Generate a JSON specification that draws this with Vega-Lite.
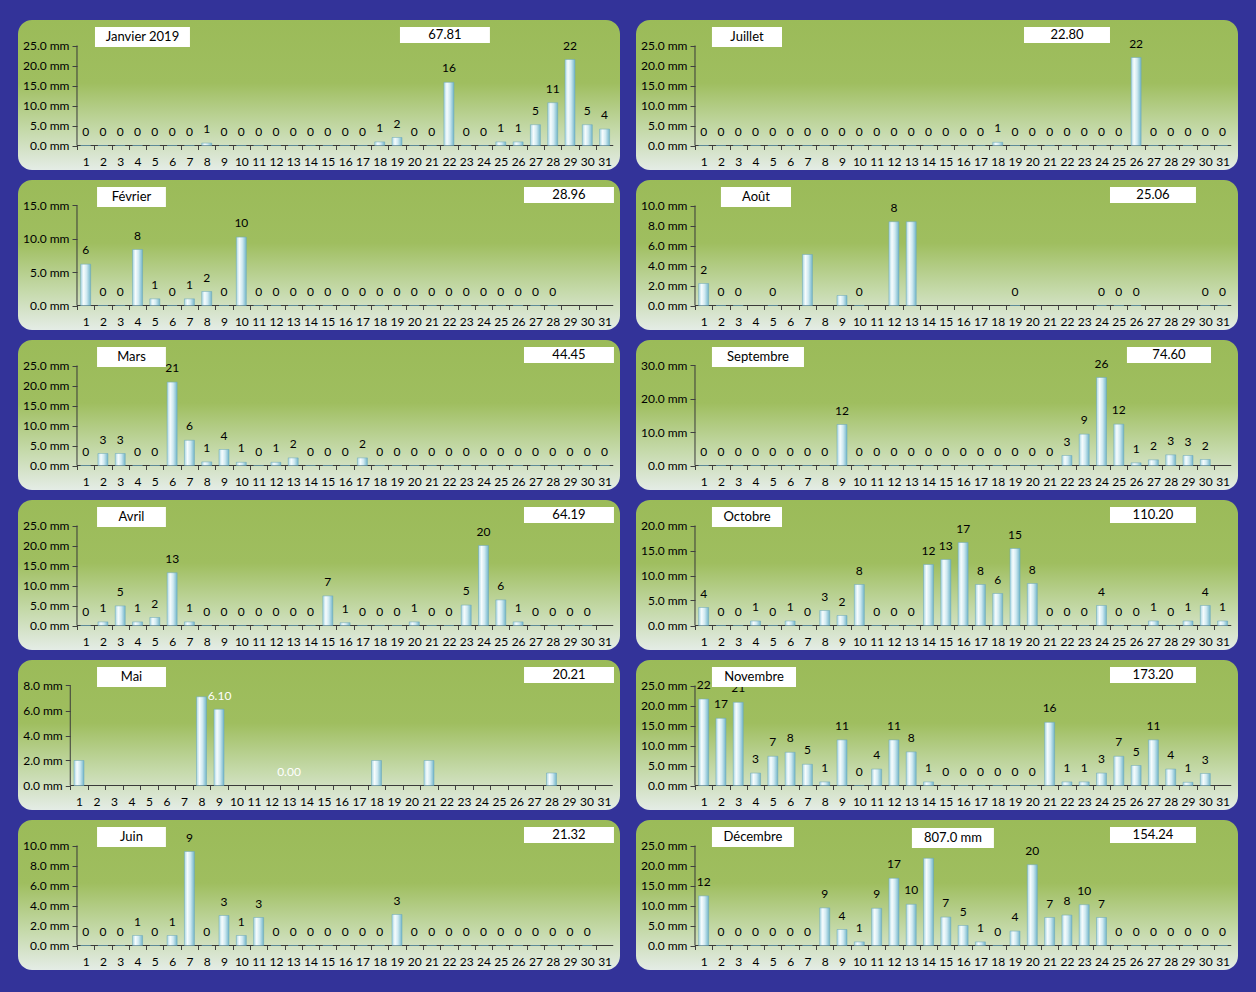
{
"$schema":"https://vega.github.io/schema/vega-lite/v6.json",
"background":"#333399",
"padding":{"left":18,"top":20,"right":18,"bottom":22},
"config":{"view":{"stroke":null},"axis":{"domain":false,"grid":false,"labelFont":"Lato","labelFontSize":12,"labelColor":"#000000","tickColor":"#404040"},"text":{"font":"Lato","fontSize":12,"color":"#000000"}},
"datasets":{
"Janvier":[{"day":1,"value":0,"label":"0"},{"day":2,"value":0,"label":"0"},{"day":3,"value":0,"label":"0"},{"day":4,"value":0,"label":"0"},{"day":5,"value":0,"label":"0"},{"day":6,"value":0,"label":"0"},{"day":7,"value":0,"label":"0"},{"day":8,"value":0.6,"label":"1"},{"day":9,"value":0,"label":"0"},{"day":10,"value":0,"label":"0"},{"day":11,"value":0,"label":"0"},{"day":12,"value":0,"label":"0"},{"day":13,"value":0,"label":"0"},{"day":14,"value":0,"label":"0"},{"day":15,"value":0,"label":"0"},{"day":16,"value":0,"label":"0"},{"day":17,"value":0,"label":"0"},{"day":18,"value":0.9,"label":"1"},{"day":19,"value":2.0,"label":"2"},{"day":20,"value":0,"label":"0"},{"day":21,"value":0,"label":"0"},{"day":22,"value":15.8,"label":"16"},{"day":23,"value":0,"label":"0"},{"day":24,"value":0,"label":"0"},{"day":25,"value":0.9,"label":"1"},{"day":26,"value":0.9,"label":"1"},{"day":27,"value":5.2,"label":"5"},{"day":28,"value":10.7,"label":"11"},{"day":29,"value":21.5,"label":"22"},{"day":30,"value":5.2,"label":"5"},{"day":31,"value":4.1,"label":"4"}],
"Février":[{"day":1,"value":6.2,"label":"6"},{"day":2,"value":0,"label":"0"},{"day":3,"value":0,"label":"0"},{"day":4,"value":8.4,"label":"8"},{"day":5,"value":1.0,"label":"1"},{"day":6,"value":0,"label":"0"},{"day":7,"value":1.0,"label":"1"},{"day":8,"value":2.1,"label":"2"},{"day":9,"value":0,"label":"0"},{"day":10,"value":10.26,"label":"10"},{"day":11,"value":0,"label":"0"},{"day":12,"value":0,"label":"0"},{"day":13,"value":0,"label":"0"},{"day":14,"value":0,"label":"0"},{"day":15,"value":0,"label":"0"},{"day":16,"value":0,"label":"0"},{"day":17,"value":0,"label":"0"},{"day":18,"value":0,"label":"0"},{"day":19,"value":0,"label":"0"},{"day":20,"value":0,"label":"0"},{"day":21,"value":0,"label":"0"},{"day":22,"value":0,"label":"0"},{"day":23,"value":0,"label":"0"},{"day":24,"value":0,"label":"0"},{"day":25,"value":0,"label":"0"},{"day":26,"value":0,"label":"0"},{"day":27,"value":0,"label":"0"},{"day":28,"value":0,"label":"0"}],
"Mars":[{"day":1,"value":0,"label":"0"},{"day":2,"value":3.0,"label":"3"},{"day":3,"value":3.0,"label":"3"},{"day":4,"value":0,"label":"0"},{"day":5,"value":0,"label":"0"},{"day":6,"value":20.85,"label":"21"},{"day":7,"value":6.3,"label":"6"},{"day":8,"value":0.9,"label":"1"},{"day":9,"value":4.0,"label":"4"},{"day":10,"value":0.8,"label":"1"},{"day":11,"value":0,"label":"0"},{"day":12,"value":0.8,"label":"1"},{"day":13,"value":1.9,"label":"2"},{"day":14,"value":0,"label":"0"},{"day":15,"value":0,"label":"0"},{"day":16,"value":0,"label":"0"},{"day":17,"value":1.9,"label":"2"},{"day":18,"value":0,"label":"0"},{"day":19,"value":0,"label":"0"},{"day":20,"value":0,"label":"0"},{"day":21,"value":0,"label":"0"},{"day":22,"value":0,"label":"0"},{"day":23,"value":0,"label":"0"},{"day":24,"value":0,"label":"0"},{"day":25,"value":0,"label":"0"},{"day":26,"value":0,"label":"0"},{"day":27,"value":0,"label":"0"},{"day":28,"value":0,"label":"0"},{"day":29,"value":0,"label":"0"},{"day":30,"value":0,"label":"0"},{"day":31,"value":0,"label":"0"}],
"Avril":[{"day":1,"value":0,"label":"0"},{"day":2,"value":0.9,"label":"1"},{"day":3,"value":4.9,"label":"5"},{"day":4,"value":0.9,"label":"1"},{"day":5,"value":2.0,"label":"2"},{"day":6,"value":13.2,"label":"13"},{"day":7,"value":0.9,"label":"1"},{"day":8,"value":0,"label":"0"},{"day":9,"value":0,"label":"0"},{"day":10,"value":0,"label":"0"},{"day":11,"value":0,"label":"0"},{"day":12,"value":0,"label":"0"},{"day":13,"value":0,"label":"0"},{"day":14,"value":0,"label":"0"},{"day":15,"value":7.4,"label":"7"},{"day":16,"value":0.7,"label":"1"},{"day":17,"value":0,"label":"0"},{"day":18,"value":0,"label":"0"},{"day":19,"value":0,"label":"0"},{"day":20,"value":0.9,"label":"1"},{"day":21,"value":0,"label":"0"},{"day":22,"value":0,"label":"0"},{"day":23,"value":5.1,"label":"5"},{"day":24,"value":20.0,"label":"20"},{"day":25,"value":6.4,"label":"6"},{"day":26,"value":0.9,"label":"1"},{"day":27,"value":0,"label":"0"},{"day":28,"value":0,"label":"0"},{"day":29,"value":0,"label":"0"},{"day":30,"value":0,"label":"0"}],
"Mai":[{"day":1,"value":2.0},{"day":8,"value":7.1},{"day":9,"value":6.1},{"day":18,"value":2.0},{"day":21,"value":2.0},{"day":28,"value":1.0}],
"Juin":[{"day":1,"value":0,"label":"0"},{"day":2,"value":0,"label":"0"},{"day":3,"value":0,"label":"0"},{"day":4,"value":1.0,"label":"1"},{"day":5,"value":0,"label":"0"},{"day":6,"value":1.0,"label":"1"},{"day":7,"value":9.4,"label":"9"},{"day":8,"value":0,"label":"0"},{"day":9,"value":3.0,"label":"3"},{"day":10,"value":1.0,"label":"1"},{"day":11,"value":2.8,"label":"3"},{"day":12,"value":0,"label":"0"},{"day":13,"value":0,"label":"0"},{"day":14,"value":0,"label":"0"},{"day":15,"value":0,"label":"0"},{"day":16,"value":0,"label":"0"},{"day":17,"value":0,"label":"0"},{"day":18,"value":0,"label":"0"},{"day":19,"value":3.1,"label":"3"},{"day":20,"value":0,"label":"0"},{"day":21,"value":0,"label":"0"},{"day":22,"value":0,"label":"0"},{"day":23,"value":0,"label":"0"},{"day":24,"value":0,"label":"0"},{"day":25,"value":0,"label":"0"},{"day":26,"value":0,"label":"0"},{"day":27,"value":0,"label":"0"},{"day":28,"value":0,"label":"0"},{"day":29,"value":0,"label":"0"},{"day":30,"value":0,"label":"0"}],
"Juillet":[{"day":1,"value":0,"label":"0"},{"day":2,"value":0,"label":"0"},{"day":3,"value":0,"label":"0"},{"day":4,"value":0,"label":"0"},{"day":5,"value":0,"label":"0"},{"day":6,"value":0,"label":"0"},{"day":7,"value":0,"label":"0"},{"day":8,"value":0,"label":"0"},{"day":9,"value":0,"label":"0"},{"day":10,"value":0,"label":"0"},{"day":11,"value":0,"label":"0"},{"day":12,"value":0,"label":"0"},{"day":13,"value":0,"label":"0"},{"day":14,"value":0,"label":"0"},{"day":15,"value":0,"label":"0"},{"day":16,"value":0,"label":"0"},{"day":17,"value":0,"label":"0"},{"day":18,"value":0.8,"label":"1"},{"day":19,"value":0,"label":"0"},{"day":20,"value":0,"label":"0"},{"day":21,"value":0,"label":"0"},{"day":22,"value":0,"label":"0"},{"day":23,"value":0,"label":"0"},{"day":24,"value":0,"label":"0"},{"day":25,"value":0,"label":"0"},{"day":26,"value":22.0,"label":"22"},{"day":27,"value":0,"label":"0"},{"day":28,"value":0,"label":"0"},{"day":29,"value":0,"label":"0"},{"day":30,"value":0,"label":"0"},{"day":31,"value":0,"label":"0"}],
"Août":[{"day":1,"value":2.2,"label":"2"},{"day":2,"value":0,"label":"0"},{"day":3,"value":0,"label":"0"},{"day":5,"value":0,"label":"0"},{"day":7,"value":5.1},{"day":9,"value":1.0},{"day":10,"value":0,"label":"0"},{"day":12,"value":8.38,"label":"8"},{"day":13,"value":8.38},{"day":19,"value":0,"label":"0"},{"day":24,"value":0,"label":"0"},{"day":25,"value":0,"label":"0"},{"day":26,"value":0,"label":"0"},{"day":30,"value":0,"label":"0"},{"day":31,"value":0,"label":"0"}],
"Septembre":[{"day":1,"value":0,"label":"0"},{"day":2,"value":0,"label":"0"},{"day":3,"value":0,"label":"0"},{"day":4,"value":0,"label":"0"},{"day":5,"value":0,"label":"0"},{"day":6,"value":0,"label":"0"},{"day":7,"value":0,"label":"0"},{"day":8,"value":0,"label":"0"},{"day":9,"value":12.3,"label":"12"},{"day":10,"value":0,"label":"0"},{"day":11,"value":0,"label":"0"},{"day":12,"value":0,"label":"0"},{"day":13,"value":0,"label":"0"},{"day":14,"value":0,"label":"0"},{"day":15,"value":0,"label":"0"},{"day":16,"value":0,"label":"0"},{"day":17,"value":0,"label":"0"},{"day":18,"value":0,"label":"0"},{"day":19,"value":0,"label":"0"},{"day":20,"value":0,"label":"0"},{"day":21,"value":0,"label":"0"},{"day":22,"value":3.0,"label":"3"},{"day":23,"value":9.4,"label":"9"},{"day":24,"value":26.4,"label":"26"},{"day":25,"value":12.4,"label":"12"},{"day":26,"value":0.8,"label":"1"},{"day":27,"value":1.7,"label":"2"},{"day":28,"value":3.2,"label":"3"},{"day":29,"value":3.0,"label":"3"},{"day":30,"value":1.8,"label":"2"}],
"Octobre":[{"day":1,"value":3.6,"label":"4"},{"day":2,"value":0,"label":"0"},{"day":3,"value":0,"label":"0"},{"day":4,"value":0.9,"label":"1"},{"day":5,"value":0,"label":"0"},{"day":6,"value":0.9,"label":"1"},{"day":7,"value":0,"label":"0"},{"day":8,"value":3.0,"label":"3"},{"day":9,"value":2.0,"label":"2"},{"day":10,"value":8.2,"label":"8"},{"day":11,"value":0,"label":"0"},{"day":12,"value":0,"label":"0"},{"day":13,"value":0,"label":"0"},{"day":14,"value":12.2,"label":"12"},{"day":15,"value":13.2,"label":"13"},{"day":16,"value":16.6,"label":"17"},{"day":17,"value":8.2,"label":"8"},{"day":18,"value":6.4,"label":"6"},{"day":19,"value":15.4,"label":"15"},{"day":20,"value":8.4,"label":"8"},{"day":21,"value":0,"label":"0"},{"day":22,"value":0,"label":"0"},{"day":23,"value":0,"label":"0"},{"day":24,"value":4.0,"label":"4"},{"day":25,"value":0,"label":"0"},{"day":26,"value":0,"label":"0"},{"day":27,"value":0.9,"label":"1"},{"day":28,"value":0,"label":"0"},{"day":29,"value":0.9,"label":"1"},{"day":30,"value":4.0,"label":"4"},{"day":31,"value":0.9,"label":"1"}],
"Novembre":[{"day":1,"value":21.6,"label":"22"},{"day":2,"value":16.8,"label":"17"},{"day":3,"value":20.8,"label":"21"},{"day":4,"value":3.1,"label":"3"},{"day":5,"value":7.3,"label":"7"},{"day":6,"value":8.3,"label":"8"},{"day":7,"value":5.3,"label":"5"},{"day":8,"value":0.9,"label":"1"},{"day":9,"value":11.4,"label":"11"},{"day":10,"value":0,"label":"0"},{"day":11,"value":4.1,"label":"4"},{"day":12,"value":11.4,"label":"11"},{"day":13,"value":8.4,"label":"8"},{"day":14,"value":0.9,"label":"1"},{"day":15,"value":0,"label":"0"},{"day":16,"value":0,"label":"0"},{"day":17,"value":0,"label":"0"},{"day":18,"value":0,"label":"0"},{"day":19,"value":0,"label":"0"},{"day":20,"value":0,"label":"0"},{"day":21,"value":15.8,"label":"16"},{"day":22,"value":0.9,"label":"1"},{"day":23,"value":0.9,"label":"1"},{"day":24,"value":3.1,"label":"3"},{"day":25,"value":7.3,"label":"7"},{"day":26,"value":5.0,"label":"5"},{"day":27,"value":11.4,"label":"11"},{"day":28,"value":4.1,"label":"4"},{"day":29,"value":0.8,"label":"1"},{"day":30,"value":3.0,"label":"3"}],
"Décembre":[{"day":1,"value":12.4,"label":"12"},{"day":2,"value":0,"label":"0"},{"day":3,"value":0,"label":"0"},{"day":4,"value":0,"label":"0"},{"day":5,"value":0,"label":"0"},{"day":6,"value":0,"label":"0"},{"day":7,"value":0,"label":"0"},{"day":8,"value":9.4,"label":"9"},{"day":9,"value":4.0,"label":"4"},{"day":10,"value":0.9,"label":"1"},{"day":11,"value":9.3,"label":"9"},{"day":12,"value":16.8,"label":"17"},{"day":13,"value":10.3,"label":"10"},{"day":14,"value":21.8,"label":"22"},{"day":15,"value":7.1,"label":"7"},{"day":16,"value":5.0,"label":"5"},{"day":17,"value":0.9,"label":"1"},{"day":18,"value":0,"label":"0"},{"day":19,"value":3.6,"label":"4"},{"day":20,"value":20.2,"label":"20"},{"day":21,"value":7.0,"label":"7"},{"day":22,"value":7.6,"label":"8"},{"day":23,"value":10.2,"label":"10"},{"day":24,"value":7.0,"label":"7"},{"day":25,"value":0,"label":"0"},{"day":26,"value":0,"label":"0"},{"day":27,"value":0,"label":"0"},{"day":28,"value":0,"label":"0"},{"day":29,"value":0,"label":"0"},{"day":30,"value":0,"label":"0"},{"day":31,"value":0,"label":"0"}]
},
"spacing":16,
"hconcat":[
{"spacing":10,"vconcat":[
{"width":602,"height":150,"layer":[
{"data":{"values":[{}]},"mark":{"type":"rect","cornerRadius":14,"fill":{"gradient":"linear","x1":0,"y1":0,"x2":0,"y2":1,"stops":[{"offset":0,"color":"#9bbb59"},{"offset":0.42,"color":"#9fbe5f"},{"offset":0.72,"color":"#c3d8a6"},{"offset":1,"color":"#e4ece6"}]}},"encoding":{"x":{"datum":-2.91,"type":"quantitative"},"x2":{"datum":31.89},"y":{"datum":-6.125,"type":"quantitative"},"y2":{"datum":31.375}}},
{"data":{"values":[{}]},"mark":{"type":"rule","color":"#3a3a3a"},"encoding":{"x":{"datum":0.5,"type":"quantitative"},"y":{"datum":0,"type":"quantitative"},"y2":{"datum":25}}},
{"data":{"values":[{}]},"mark":{"type":"rule","color":"#3a3a3a"},"encoding":{"x":{"datum":0.5,"type":"quantitative"},"x2":{"datum":31.5},"y":{"datum":0,"type":"quantitative"}}},
{"data":{"name":"Janvier"},"mark":{"type":"bar","orient":"vertical","width":10,"stroke":"#6aa6b8","strokeWidth":0.5,"fill":{"gradient":"linear","x1":0,"y1":0,"x2":1,"y2":0,"stops":[{"offset":0,"color":"#a9d7e4"},{"offset":0.3,"color":"#f7fcfd"},{"offset":0.6,"color":"#cfe9f1"},{"offset":1,"color":"#72b5c9"}]}},"encoding":{"x":{"field":"day","type":"quantitative","scale":{"domain":[-2.91,31.89],"nice":false,"zero":false,"padding":0},"axis":{"zindex":1,"tickCount":100,"labelOverlap":false,"labelFlush":false,"values":[1,2,3,4,5,6,7,8,9,10,11,12,13,14,15,16,17,18,19,20,21,22,23,24,25,26,27,28,29,30,31,32],"format":"d","labelExpr":"datum.value > 31 ? '' : datum.label","offset":-24.5,"tickOffset":-8.65,"labelOffset":8.65,"tickSize":4,"labelPadding":7,"title":null}},"y":{"field":"value","type":"quantitative","scale":{"domain":[-6.125,31.375],"nice":false,"zero":false},"axis":{"zindex":1,"tickCount":100,"labelOverlap":false,"values":[0,5,10,15,20,25],"format":".1f","labelExpr":"datum.label + ' mm'","offset":-59,"tickSize":5,"labelPadding":3,"title":null}}}},
{"data":{"name":"Janvier"},"transform":[{"filter":"isValid(datum.label)"}],"mark":{"type":"text","baseline":"middle","dy":-14},"encoding":{"x":{"field":"day","type":"quantitative"},"y":{"field":"value","type":"quantitative"},"text":{"field":"label","type":"nominal"}}},
{"data":{"values":[{}]},"mark":{"type":"rect","fill":"#ffffff"},"encoding":{"x":{"datum":1.54,"type":"quantitative"},"x2":{"datum":7.03},"y":{"datum":24.625,"type":"quantitative"},"y2":{"datum":29.625}}},
{"data":{"values":[{}]},"mark":{"type":"text","text":"Janvier 2019","fontSize":13,"baseline":"middle"},"encoding":{"x":{"datum":4.285,"type":"quantitative"},"y":{"datum":27.125,"type":"quantitative"}}},
{"data":{"values":[{}]},"mark":{"type":"rect","fill":"#ffffff"},"encoding":{"x":{"datum":19.17,"type":"quantitative"},"x2":{"datum":24.37},"y":{"datum":25.625,"type":"quantitative"},"y2":{"datum":29.625}}},
{"data":{"values":[{}]},"mark":{"type":"text","text":"67.81","fontSize":13,"baseline":"middle"},"encoding":{"x":{"datum":21.77,"type":"quantitative"},"y":{"datum":27.625,"type":"quantitative"}}}
]},
{"width":602,"height":150,"layer":[
{"data":{"values":[{}]},"mark":{"type":"rect","cornerRadius":14,"fill":{"gradient":"linear","x1":0,"y1":0,"x2":0,"y2":1,"stops":[{"offset":0,"color":"#9bbb59"},{"offset":0.42,"color":"#9fbe5f"},{"offset":0.72,"color":"#c3d8a6"},{"offset":1,"color":"#e4ece6"}]}},"encoding":{"x":{"datum":-2.91,"type":"quantitative"},"x2":{"datum":31.89},"y":{"datum":-3.675,"type":"quantitative"},"y2":{"datum":18.825}}},
{"data":{"values":[{}]},"mark":{"type":"rule","color":"#3a3a3a"},"encoding":{"x":{"datum":0.5,"type":"quantitative"},"y":{"datum":0,"type":"quantitative"},"y2":{"datum":15}}},
{"data":{"values":[{}]},"mark":{"type":"rule","color":"#3a3a3a"},"encoding":{"x":{"datum":0.5,"type":"quantitative"},"x2":{"datum":31.5},"y":{"datum":0,"type":"quantitative"}}},
{"data":{"name":"Février"},"mark":{"type":"bar","orient":"vertical","width":10,"stroke":"#6aa6b8","strokeWidth":0.5,"fill":{"gradient":"linear","x1":0,"y1":0,"x2":1,"y2":0,"stops":[{"offset":0,"color":"#a9d7e4"},{"offset":0.3,"color":"#f7fcfd"},{"offset":0.6,"color":"#cfe9f1"},{"offset":1,"color":"#72b5c9"}]}},"encoding":{"x":{"field":"day","type":"quantitative","scale":{"domain":[-2.91,31.89],"nice":false,"zero":false,"padding":0},"axis":{"zindex":1,"tickCount":100,"labelOverlap":false,"labelFlush":false,"values":[1,2,3,4,5,6,7,8,9,10,11,12,13,14,15,16,17,18,19,20,21,22,23,24,25,26,27,28,29,30,31,32],"format":"d","labelExpr":"datum.value > 31 ? '' : datum.label","offset":-24.5,"tickOffset":-8.65,"labelOffset":8.65,"tickSize":4,"labelPadding":7,"title":null}},"y":{"field":"value","type":"quantitative","scale":{"domain":[-3.675,18.825],"nice":false,"zero":false},"axis":{"zindex":1,"tickCount":100,"labelOverlap":false,"values":[0,5,10,15],"format":".1f","labelExpr":"datum.label + ' mm'","offset":-59,"tickSize":5,"labelPadding":3,"title":null}}}},
{"data":{"name":"Février"},"transform":[{"filter":"isValid(datum.label)"}],"mark":{"type":"text","baseline":"middle","dy":-14},"encoding":{"x":{"field":"day","type":"quantitative"},"y":{"field":"value","type":"quantitative"},"text":{"field":"label","type":"nominal"}}},
{"data":{"values":[{}]},"mark":{"type":"rect","fill":"#ffffff"},"encoding":{"x":{"datum":1.66,"type":"quantitative"},"x2":{"datum":5.64},"y":{"datum":14.775,"type":"quantitative"},"y2":{"datum":17.775}}},
{"data":{"values":[{}]},"mark":{"type":"text","text":"Février","fontSize":13,"baseline":"middle"},"encoding":{"x":{"datum":3.65,"type":"quantitative"},"y":{"datum":16.275,"type":"quantitative"}}},
{"data":{"values":[{}]},"mark":{"type":"rect","fill":"#ffffff"},"encoding":{"x":{"datum":26.34,"type":"quantitative"},"x2":{"datum":31.54},"y":{"datum":15.375,"type":"quantitative"},"y2":{"datum":17.775}}},
{"data":{"values":[{}]},"mark":{"type":"text","text":"28.96","fontSize":13,"baseline":"middle"},"encoding":{"x":{"datum":28.94,"type":"quantitative"},"y":{"datum":16.575,"type":"quantitative"}}}
]},
{"width":602,"height":150,"layer":[
{"data":{"values":[{}]},"mark":{"type":"rect","cornerRadius":14,"fill":{"gradient":"linear","x1":0,"y1":0,"x2":0,"y2":1,"stops":[{"offset":0,"color":"#9bbb59"},{"offset":0.42,"color":"#9fbe5f"},{"offset":0.72,"color":"#c3d8a6"},{"offset":1,"color":"#e4ece6"}]}},"encoding":{"x":{"datum":-2.91,"type":"quantitative"},"x2":{"datum":31.89},"y":{"datum":-6.125,"type":"quantitative"},"y2":{"datum":31.375}}},
{"data":{"values":[{}]},"mark":{"type":"rule","color":"#3a3a3a"},"encoding":{"x":{"datum":0.5,"type":"quantitative"},"y":{"datum":0,"type":"quantitative"},"y2":{"datum":25}}},
{"data":{"values":[{}]},"mark":{"type":"rule","color":"#3a3a3a"},"encoding":{"x":{"datum":0.5,"type":"quantitative"},"x2":{"datum":31.5},"y":{"datum":0,"type":"quantitative"}}},
{"data":{"name":"Mars"},"mark":{"type":"bar","orient":"vertical","width":10,"stroke":"#6aa6b8","strokeWidth":0.5,"fill":{"gradient":"linear","x1":0,"y1":0,"x2":1,"y2":0,"stops":[{"offset":0,"color":"#a9d7e4"},{"offset":0.3,"color":"#f7fcfd"},{"offset":0.6,"color":"#cfe9f1"},{"offset":1,"color":"#72b5c9"}]}},"encoding":{"x":{"field":"day","type":"quantitative","scale":{"domain":[-2.91,31.89],"nice":false,"zero":false,"padding":0},"axis":{"zindex":1,"tickCount":100,"labelOverlap":false,"labelFlush":false,"values":[1,2,3,4,5,6,7,8,9,10,11,12,13,14,15,16,17,18,19,20,21,22,23,24,25,26,27,28,29,30,31,32],"format":"d","labelExpr":"datum.value > 31 ? '' : datum.label","offset":-24.5,"tickOffset":-8.65,"labelOffset":8.65,"tickSize":4,"labelPadding":7,"title":null}},"y":{"field":"value","type":"quantitative","scale":{"domain":[-6.125,31.375],"nice":false,"zero":false},"axis":{"zindex":1,"tickCount":100,"labelOverlap":false,"values":[0,5,10,15,20,25],"format":".1f","labelExpr":"datum.label + ' mm'","offset":-59,"tickSize":5,"labelPadding":3,"title":null}}}},
{"data":{"name":"Mars"},"transform":[{"filter":"isValid(datum.label)"}],"mark":{"type":"text","baseline":"middle","dy":-14},"encoding":{"x":{"field":"day","type":"quantitative"},"y":{"field":"value","type":"quantitative"},"text":{"field":"label","type":"nominal"}}},
{"data":{"values":[{}]},"mark":{"type":"rect","fill":"#ffffff"},"encoding":{"x":{"datum":1.66,"type":"quantitative"},"x2":{"datum":5.64},"y":{"datum":24.625,"type":"quantitative"},"y2":{"datum":29.625}}},
{"data":{"values":[{}]},"mark":{"type":"text","text":"Mars","fontSize":13,"baseline":"middle"},"encoding":{"x":{"datum":3.65,"type":"quantitative"},"y":{"datum":27.125,"type":"quantitative"}}},
{"data":{"values":[{}]},"mark":{"type":"rect","fill":"#ffffff"},"encoding":{"x":{"datum":26.34,"type":"quantitative"},"x2":{"datum":31.54},"y":{"datum":25.625,"type":"quantitative"},"y2":{"datum":29.625}}},
{"data":{"values":[{}]},"mark":{"type":"text","text":"44.45","fontSize":13,"baseline":"middle"},"encoding":{"x":{"datum":28.94,"type":"quantitative"},"y":{"datum":27.625,"type":"quantitative"}}}
]},
{"width":602,"height":150,"layer":[
{"data":{"values":[{}]},"mark":{"type":"rect","cornerRadius":14,"fill":{"gradient":"linear","x1":0,"y1":0,"x2":0,"y2":1,"stops":[{"offset":0,"color":"#9bbb59"},{"offset":0.42,"color":"#9fbe5f"},{"offset":0.72,"color":"#c3d8a6"},{"offset":1,"color":"#e4ece6"}]}},"encoding":{"x":{"datum":-2.91,"type":"quantitative"},"x2":{"datum":31.89},"y":{"datum":-6.125,"type":"quantitative"},"y2":{"datum":31.375}}},
{"data":{"values":[{}]},"mark":{"type":"rule","color":"#3a3a3a"},"encoding":{"x":{"datum":0.5,"type":"quantitative"},"y":{"datum":0,"type":"quantitative"},"y2":{"datum":25}}},
{"data":{"values":[{}]},"mark":{"type":"rule","color":"#3a3a3a"},"encoding":{"x":{"datum":0.5,"type":"quantitative"},"x2":{"datum":31.5},"y":{"datum":0,"type":"quantitative"}}},
{"data":{"name":"Avril"},"mark":{"type":"bar","orient":"vertical","width":10,"stroke":"#6aa6b8","strokeWidth":0.5,"fill":{"gradient":"linear","x1":0,"y1":0,"x2":1,"y2":0,"stops":[{"offset":0,"color":"#a9d7e4"},{"offset":0.3,"color":"#f7fcfd"},{"offset":0.6,"color":"#cfe9f1"},{"offset":1,"color":"#72b5c9"}]}},"encoding":{"x":{"field":"day","type":"quantitative","scale":{"domain":[-2.91,31.89],"nice":false,"zero":false,"padding":0},"axis":{"zindex":1,"tickCount":100,"labelOverlap":false,"labelFlush":false,"values":[1,2,3,4,5,6,7,8,9,10,11,12,13,14,15,16,17,18,19,20,21,22,23,24,25,26,27,28,29,30,31,32],"format":"d","labelExpr":"datum.value > 31 ? '' : datum.label","offset":-24.5,"tickOffset":-8.65,"labelOffset":8.65,"tickSize":4,"labelPadding":7,"title":null}},"y":{"field":"value","type":"quantitative","scale":{"domain":[-6.125,31.375],"nice":false,"zero":false},"axis":{"zindex":1,"tickCount":100,"labelOverlap":false,"values":[0,5,10,15,20,25],"format":".1f","labelExpr":"datum.label + ' mm'","offset":-59,"tickSize":5,"labelPadding":3,"title":null}}}},
{"data":{"name":"Avril"},"transform":[{"filter":"isValid(datum.label)"}],"mark":{"type":"text","baseline":"middle","dy":-14},"encoding":{"x":{"field":"day","type":"quantitative"},"y":{"field":"value","type":"quantitative"},"text":{"field":"label","type":"nominal"}}},
{"data":{"values":[{}]},"mark":{"type":"rect","fill":"#ffffff"},"encoding":{"x":{"datum":1.66,"type":"quantitative"},"x2":{"datum":5.64},"y":{"datum":24.625,"type":"quantitative"},"y2":{"datum":29.625}}},
{"data":{"values":[{}]},"mark":{"type":"text","text":"Avril","fontSize":13,"baseline":"middle"},"encoding":{"x":{"datum":3.65,"type":"quantitative"},"y":{"datum":27.125,"type":"quantitative"}}},
{"data":{"values":[{}]},"mark":{"type":"rect","fill":"#ffffff"},"encoding":{"x":{"datum":26.34,"type":"quantitative"},"x2":{"datum":31.54},"y":{"datum":25.625,"type":"quantitative"},"y2":{"datum":29.625}}},
{"data":{"values":[{}]},"mark":{"type":"text","text":"64.19","fontSize":13,"baseline":"middle"},"encoding":{"x":{"datum":28.94,"type":"quantitative"},"y":{"datum":27.625,"type":"quantitative"}}}
]},
{"width":602,"height":150,"layer":[
{"data":{"values":[{}]},"mark":{"type":"rect","cornerRadius":14,"fill":{"gradient":"linear","x1":0,"y1":0,"x2":0,"y2":1,"stops":[{"offset":0,"color":"#9bbb59"},{"offset":0.42,"color":"#9fbe5f"},{"offset":0.72,"color":"#c3d8a6"},{"offset":1,"color":"#e4ece6"}]}},"encoding":{"x":{"datum":-2.486,"type":"quantitative"},"x2":{"datum":31.914},"y":{"datum":-1.96,"type":"quantitative"},"y2":{"datum":10.04}}},
{"data":{"values":[{}]},"mark":{"type":"rule","color":"#3a3a3a"},"encoding":{"x":{"datum":0.5,"type":"quantitative"},"y":{"datum":0,"type":"quantitative"},"y2":{"datum":8}}},
{"data":{"values":[{}]},"mark":{"type":"rule","color":"#3a3a3a"},"encoding":{"x":{"datum":0.5,"type":"quantitative"},"x2":{"datum":31.5},"y":{"datum":0,"type":"quantitative"}}},
{"data":{"name":"Mai"},"mark":{"type":"bar","orient":"vertical","width":10,"stroke":"#6aa6b8","strokeWidth":0.5,"fill":{"gradient":"linear","x1":0,"y1":0,"x2":1,"y2":0,"stops":[{"offset":0,"color":"#a9d7e4"},{"offset":0.3,"color":"#f7fcfd"},{"offset":0.6,"color":"#cfe9f1"},{"offset":1,"color":"#72b5c9"}]}},"encoding":{"x":{"field":"day","type":"quantitative","scale":{"domain":[-2.486,31.914],"nice":false,"zero":false,"padding":0},"axis":{"zindex":1,"tickCount":100,"labelOverlap":false,"labelFlush":false,"values":[1,2,3,4,5,6,7,8,9,10,11,12,13,14,15,16,17,18,19,20,21,22,23,24,25,26,27,28,29,30,31,32],"format":"d","labelExpr":"datum.value > 31 ? '' : datum.label","offset":-24.5,"tickOffset":-8.75,"labelOffset":8.75,"tickSize":4,"labelPadding":7,"title":null}},"y":{"field":"value","type":"quantitative","scale":{"domain":[-1.96,10.04],"nice":false,"zero":false},"axis":{"zindex":1,"tickCount":100,"labelOverlap":false,"values":[0,2,4,6,8],"format":".1f","labelExpr":"datum.label + ' mm'","offset":-52.25,"tickSize":5,"labelPadding":3,"title":null}}}},
{"data":{"values":[{}]},"mark":{"type":"text","text":"6.10","align":"left","baseline":"middle","color":"#ffffff"},"encoding":{"x":{"datum":8.35,"type":"quantitative"},"y":{"datum":7.16,"type":"quantitative"}}},
{"data":{"values":[{}]},"mark":{"type":"text","text":"0.00","baseline":"middle","color":"#ffffff"},"encoding":{"x":{"datum":13.0,"type":"quantitative"},"y":{"datum":1.08,"type":"quantitative"}}},
{"data":{"values":[{}]},"mark":{"type":"rect","fill":"#ffffff"},"encoding":{"x":{"datum":2.03,"type":"quantitative"},"x2":{"datum":5.97},"y":{"datum":7.88,"type":"quantitative"},"y2":{"datum":9.48}}},
{"data":{"values":[{}]},"mark":{"type":"text","text":"Mai","fontSize":13,"baseline":"middle"},"encoding":{"x":{"datum":4.0,"type":"quantitative"},"y":{"datum":8.68,"type":"quantitative"}}},
{"data":{"values":[{}]},"mark":{"type":"rect","fill":"#ffffff"},"encoding":{"x":{"datum":26.43,"type":"quantitative"},"x2":{"datum":31.57},"y":{"datum":8.2,"type":"quantitative"},"y2":{"datum":9.48}}},
{"data":{"values":[{}]},"mark":{"type":"text","text":"20.21","fontSize":13,"baseline":"middle"},"encoding":{"x":{"datum":29.0,"type":"quantitative"},"y":{"datum":8.84,"type":"quantitative"}}}
]},
{"width":602,"height":150,"layer":[
{"data":{"values":[{}]},"mark":{"type":"rect","cornerRadius":14,"fill":{"gradient":"linear","x1":0,"y1":0,"x2":0,"y2":1,"stops":[{"offset":0,"color":"#9bbb59"},{"offset":0.42,"color":"#9fbe5f"},{"offset":0.72,"color":"#c3d8a6"},{"offset":1,"color":"#e4ece6"}]}},"encoding":{"x":{"datum":-2.91,"type":"quantitative"},"x2":{"datum":31.89},"y":{"datum":-2.45,"type":"quantitative"},"y2":{"datum":12.55}}},
{"data":{"values":[{}]},"mark":{"type":"rule","color":"#3a3a3a"},"encoding":{"x":{"datum":0.5,"type":"quantitative"},"y":{"datum":0,"type":"quantitative"},"y2":{"datum":10}}},
{"data":{"values":[{}]},"mark":{"type":"rule","color":"#3a3a3a"},"encoding":{"x":{"datum":0.5,"type":"quantitative"},"x2":{"datum":31.5},"y":{"datum":0,"type":"quantitative"}}},
{"data":{"name":"Juin"},"mark":{"type":"bar","orient":"vertical","width":10,"stroke":"#6aa6b8","strokeWidth":0.5,"fill":{"gradient":"linear","x1":0,"y1":0,"x2":1,"y2":0,"stops":[{"offset":0,"color":"#a9d7e4"},{"offset":0.3,"color":"#f7fcfd"},{"offset":0.6,"color":"#cfe9f1"},{"offset":1,"color":"#72b5c9"}]}},"encoding":{"x":{"field":"day","type":"quantitative","scale":{"domain":[-2.91,31.89],"nice":false,"zero":false,"padding":0},"axis":{"zindex":1,"tickCount":100,"labelOverlap":false,"labelFlush":false,"values":[1,2,3,4,5,6,7,8,9,10,11,12,13,14,15,16,17,18,19,20,21,22,23,24,25,26,27,28,29,30,31,32],"format":"d","labelExpr":"datum.value > 31 ? '' : datum.label","offset":-24.5,"tickOffset":-8.65,"labelOffset":8.65,"tickSize":4,"labelPadding":7,"title":null}},"y":{"field":"value","type":"quantitative","scale":{"domain":[-2.45,12.55],"nice":false,"zero":false},"axis":{"zindex":1,"tickCount":100,"labelOverlap":false,"values":[0,2,4,6,8,10],"format":".1f","labelExpr":"datum.label + ' mm'","offset":-59,"tickSize":5,"labelPadding":3,"title":null}}}},
{"data":{"name":"Juin"},"transform":[{"filter":"isValid(datum.label)"}],"mark":{"type":"text","baseline":"middle","dy":-14},"encoding":{"x":{"field":"day","type":"quantitative"},"y":{"field":"value","type":"quantitative"},"text":{"field":"label","type":"nominal"}}},
{"data":{"values":[{}]},"mark":{"type":"rect","fill":"#ffffff"},"encoding":{"x":{"datum":1.66,"type":"quantitative"},"x2":{"datum":5.64},"y":{"datum":9.85,"type":"quantitative"},"y2":{"datum":11.85}}},
{"data":{"values":[{}]},"mark":{"type":"text","text":"Juin","fontSize":13,"baseline":"middle"},"encoding":{"x":{"datum":3.65,"type":"quantitative"},"y":{"datum":10.85,"type":"quantitative"}}},
{"data":{"values":[{}]},"mark":{"type":"rect","fill":"#ffffff"},"encoding":{"x":{"datum":26.34,"type":"quantitative"},"x2":{"datum":31.54},"y":{"datum":10.25,"type":"quantitative"},"y2":{"datum":11.85}}},
{"data":{"values":[{}]},"mark":{"type":"text","text":"21.32","fontSize":13,"baseline":"middle"},"encoding":{"x":{"datum":28.94,"type":"quantitative"},"y":{"datum":11.05,"type":"quantitative"}}}
]}
]},
{"spacing":10,"vconcat":[
{"width":602,"height":150,"layer":[
{"data":{"values":[{}]},"mark":{"type":"rect","cornerRadius":14,"fill":{"gradient":"linear","x1":0,"y1":0,"x2":0,"y2":1,"stops":[{"offset":0,"color":"#9bbb59"},{"offset":0.42,"color":"#9fbe5f"},{"offset":0.72,"color":"#c3d8a6"},{"offset":1,"color":"#e4ece6"}]}},"encoding":{"x":{"datum":-2.91,"type":"quantitative"},"x2":{"datum":31.89},"y":{"datum":-6.125,"type":"quantitative"},"y2":{"datum":31.375}}},
{"data":{"values":[{}]},"mark":{"type":"rule","color":"#3a3a3a"},"encoding":{"x":{"datum":0.5,"type":"quantitative"},"y":{"datum":0,"type":"quantitative"},"y2":{"datum":25}}},
{"data":{"values":[{}]},"mark":{"type":"rule","color":"#3a3a3a"},"encoding":{"x":{"datum":0.5,"type":"quantitative"},"x2":{"datum":31.5},"y":{"datum":0,"type":"quantitative"}}},
{"data":{"name":"Juillet"},"mark":{"type":"bar","orient":"vertical","width":10,"stroke":"#6aa6b8","strokeWidth":0.5,"fill":{"gradient":"linear","x1":0,"y1":0,"x2":1,"y2":0,"stops":[{"offset":0,"color":"#a9d7e4"},{"offset":0.3,"color":"#f7fcfd"},{"offset":0.6,"color":"#cfe9f1"},{"offset":1,"color":"#72b5c9"}]}},"encoding":{"x":{"field":"day","type":"quantitative","scale":{"domain":[-2.91,31.89],"nice":false,"zero":false,"padding":0},"axis":{"zindex":1,"tickCount":100,"labelOverlap":false,"labelFlush":false,"values":[1,2,3,4,5,6,7,8,9,10,11,12,13,14,15,16,17,18,19,20,21,22,23,24,25,26,27,28,29,30,31,32],"format":"d","labelExpr":"datum.value > 31 ? '' : datum.label","offset":-24.5,"tickOffset":-8.65,"labelOffset":8.65,"tickSize":4,"labelPadding":7,"title":null}},"y":{"field":"value","type":"quantitative","scale":{"domain":[-6.125,31.375],"nice":false,"zero":false},"axis":{"zindex":1,"tickCount":100,"labelOverlap":false,"values":[0,5,10,15,20,25],"format":".1f","labelExpr":"datum.label + ' mm'","offset":-59,"tickSize":5,"labelPadding":3,"title":null}}}},
{"data":{"name":"Juillet"},"transform":[{"filter":"isValid(datum.label)"}],"mark":{"type":"text","baseline":"middle","dy":-14},"encoding":{"x":{"field":"day","type":"quantitative"},"y":{"field":"value","type":"quantitative"},"text":{"field":"label","type":"nominal"}}},
{"data":{"values":[{}]},"mark":{"type":"rect","fill":"#ffffff"},"encoding":{"x":{"datum":1.48,"type":"quantitative"},"x2":{"datum":5.53},"y":{"datum":24.625,"type":"quantitative"},"y2":{"datum":29.625}}},
{"data":{"values":[{}]},"mark":{"type":"text","text":"Juillet","fontSize":13,"baseline":"middle"},"encoding":{"x":{"datum":3.505,"type":"quantitative"},"y":{"datum":27.125,"type":"quantitative"}}},
{"data":{"values":[{}]},"mark":{"type":"rect","fill":"#ffffff"},"encoding":{"x":{"datum":19.52,"type":"quantitative"},"x2":{"datum":24.49},"y":{"datum":25.625,"type":"quantitative"},"y2":{"datum":29.625}}},
{"data":{"values":[{}]},"mark":{"type":"text","text":"22.80","fontSize":13,"baseline":"middle"},"encoding":{"x":{"datum":22.005,"type":"quantitative"},"y":{"datum":27.625,"type":"quantitative"}}}
]},
{"width":602,"height":150,"layer":[
{"data":{"values":[{}]},"mark":{"type":"rect","cornerRadius":14,"fill":{"gradient":"linear","x1":0,"y1":0,"x2":0,"y2":1,"stops":[{"offset":0,"color":"#9bbb59"},{"offset":0.42,"color":"#9fbe5f"},{"offset":0.72,"color":"#c3d8a6"},{"offset":1,"color":"#e4ece6"}]}},"encoding":{"x":{"datum":-2.91,"type":"quantitative"},"x2":{"datum":31.89},"y":{"datum":-2.45,"type":"quantitative"},"y2":{"datum":12.55}}},
{"data":{"values":[{}]},"mark":{"type":"rule","color":"#3a3a3a"},"encoding":{"x":{"datum":0.5,"type":"quantitative"},"y":{"datum":0,"type":"quantitative"},"y2":{"datum":10}}},
{"data":{"values":[{}]},"mark":{"type":"rule","color":"#3a3a3a"},"encoding":{"x":{"datum":0.5,"type":"quantitative"},"x2":{"datum":31.5},"y":{"datum":0,"type":"quantitative"}}},
{"data":{"name":"Août"},"mark":{"type":"bar","orient":"vertical","width":10,"stroke":"#6aa6b8","strokeWidth":0.5,"fill":{"gradient":"linear","x1":0,"y1":0,"x2":1,"y2":0,"stops":[{"offset":0,"color":"#a9d7e4"},{"offset":0.3,"color":"#f7fcfd"},{"offset":0.6,"color":"#cfe9f1"},{"offset":1,"color":"#72b5c9"}]}},"encoding":{"x":{"field":"day","type":"quantitative","scale":{"domain":[-2.91,31.89],"nice":false,"zero":false,"padding":0},"axis":{"zindex":1,"tickCount":100,"labelOverlap":false,"labelFlush":false,"values":[1,2,3,4,5,6,7,8,9,10,11,12,13,14,15,16,17,18,19,20,21,22,23,24,25,26,27,28,29,30,31,32],"format":"d","labelExpr":"datum.value > 31 ? '' : datum.label","offset":-24.5,"tickOffset":-8.65,"labelOffset":8.65,"tickSize":4,"labelPadding":7,"title":null}},"y":{"field":"value","type":"quantitative","scale":{"domain":[-2.45,12.55],"nice":false,"zero":false},"axis":{"zindex":1,"tickCount":100,"labelOverlap":false,"values":[0,2,4,6,8,10],"format":".1f","labelExpr":"datum.label + ' mm'","offset":-59,"tickSize":5,"labelPadding":3,"title":null}}}},
{"data":{"name":"Août"},"transform":[{"filter":"isValid(datum.label)"}],"mark":{"type":"text","baseline":"middle","dy":-14},"encoding":{"x":{"field":"day","type":"quantitative"},"y":{"field":"value","type":"quantitative"},"text":{"field":"label","type":"nominal"}}},
{"data":{"values":[{}]},"mark":{"type":"rect","fill":"#ffffff"},"encoding":{"x":{"datum":2.0,"type":"quantitative"},"x2":{"datum":6.05},"y":{"datum":9.85,"type":"quantitative"},"y2":{"datum":11.85}}},
{"data":{"values":[{}]},"mark":{"type":"text","text":"Août","fontSize":13,"baseline":"middle"},"encoding":{"x":{"datum":4.025,"type":"quantitative"},"y":{"datum":10.85,"type":"quantitative"}}},
{"data":{"values":[{}]},"mark":{"type":"rect","fill":"#ffffff"},"encoding":{"x":{"datum":24.49,"type":"quantitative"},"x2":{"datum":29.46},"y":{"datum":10.25,"type":"quantitative"},"y2":{"datum":11.85}}},
{"data":{"values":[{}]},"mark":{"type":"text","text":"25.06","fontSize":13,"baseline":"middle"},"encoding":{"x":{"datum":26.975,"type":"quantitative"},"y":{"datum":11.05,"type":"quantitative"}}}
]},
{"width":602,"height":150,"layer":[
{"data":{"values":[{}]},"mark":{"type":"rect","cornerRadius":14,"fill":{"gradient":"linear","x1":0,"y1":0,"x2":0,"y2":1,"stops":[{"offset":0,"color":"#9bbb59"},{"offset":0.42,"color":"#9fbe5f"},{"offset":0.72,"color":"#c3d8a6"},{"offset":1,"color":"#e4ece6"}]}},"encoding":{"x":{"datum":-2.91,"type":"quantitative"},"x2":{"datum":31.89},"y":{"datum":-7.35,"type":"quantitative"},"y2":{"datum":37.65}}},
{"data":{"values":[{}]},"mark":{"type":"rule","color":"#3a3a3a"},"encoding":{"x":{"datum":0.5,"type":"quantitative"},"y":{"datum":0,"type":"quantitative"},"y2":{"datum":30}}},
{"data":{"values":[{}]},"mark":{"type":"rule","color":"#3a3a3a"},"encoding":{"x":{"datum":0.5,"type":"quantitative"},"x2":{"datum":31.5},"y":{"datum":0,"type":"quantitative"}}},
{"data":{"name":"Septembre"},"mark":{"type":"bar","orient":"vertical","width":10,"stroke":"#6aa6b8","strokeWidth":0.5,"fill":{"gradient":"linear","x1":0,"y1":0,"x2":1,"y2":0,"stops":[{"offset":0,"color":"#a9d7e4"},{"offset":0.3,"color":"#f7fcfd"},{"offset":0.6,"color":"#cfe9f1"},{"offset":1,"color":"#72b5c9"}]}},"encoding":{"x":{"field":"day","type":"quantitative","scale":{"domain":[-2.91,31.89],"nice":false,"zero":false,"padding":0},"axis":{"zindex":1,"tickCount":100,"labelOverlap":false,"labelFlush":false,"values":[1,2,3,4,5,6,7,8,9,10,11,12,13,14,15,16,17,18,19,20,21,22,23,24,25,26,27,28,29,30,31,32],"format":"d","labelExpr":"datum.value > 31 ? '' : datum.label","offset":-24.5,"tickOffset":-8.65,"labelOffset":8.65,"tickSize":4,"labelPadding":7,"title":null}},"y":{"field":"value","type":"quantitative","scale":{"domain":[-7.35,37.65],"nice":false,"zero":false},"axis":{"zindex":1,"tickCount":100,"labelOverlap":false,"values":[0,10,20,30],"format":".1f","labelExpr":"datum.label + ' mm'","offset":-59,"tickSize":5,"labelPadding":3,"title":null}}}},
{"data":{"name":"Septembre"},"transform":[{"filter":"isValid(datum.label)"}],"mark":{"type":"text","baseline":"middle","dy":-14},"encoding":{"x":{"field":"day","type":"quantitative"},"y":{"field":"value","type":"quantitative"},"text":{"field":"label","type":"nominal"}}},
{"data":{"values":[{}]},"mark":{"type":"rect","fill":"#ffffff"},"encoding":{"x":{"datum":1.48,"type":"quantitative"},"x2":{"datum":6.8},"y":{"datum":29.55,"type":"quantitative"},"y2":{"datum":35.55}}},
{"data":{"values":[{}]},"mark":{"type":"text","text":"Septembre","fontSize":13,"baseline":"middle"},"encoding":{"x":{"datum":4.14,"type":"quantitative"},"y":{"datum":32.55,"type":"quantitative"}}},
{"data":{"values":[{}]},"mark":{"type":"rect","fill":"#ffffff"},"encoding":{"x":{"datum":25.47,"type":"quantitative"},"x2":{"datum":30.33},"y":{"datum":30.75,"type":"quantitative"},"y2":{"datum":35.55}}},
{"data":{"values":[{}]},"mark":{"type":"text","text":"74.60","fontSize":13,"baseline":"middle"},"encoding":{"x":{"datum":27.9,"type":"quantitative"},"y":{"datum":33.15,"type":"quantitative"}}}
]},
{"width":602,"height":150,"layer":[
{"data":{"values":[{}]},"mark":{"type":"rect","cornerRadius":14,"fill":{"gradient":"linear","x1":0,"y1":0,"x2":0,"y2":1,"stops":[{"offset":0,"color":"#9bbb59"},{"offset":0.42,"color":"#9fbe5f"},{"offset":0.72,"color":"#c3d8a6"},{"offset":1,"color":"#e4ece6"}]}},"encoding":{"x":{"datum":-2.91,"type":"quantitative"},"x2":{"datum":31.89},"y":{"datum":-4.9,"type":"quantitative"},"y2":{"datum":25.1}}},
{"data":{"values":[{}]},"mark":{"type":"rule","color":"#3a3a3a"},"encoding":{"x":{"datum":0.5,"type":"quantitative"},"y":{"datum":0,"type":"quantitative"},"y2":{"datum":20}}},
{"data":{"values":[{}]},"mark":{"type":"rule","color":"#3a3a3a"},"encoding":{"x":{"datum":0.5,"type":"quantitative"},"x2":{"datum":31.5},"y":{"datum":0,"type":"quantitative"}}},
{"data":{"name":"Octobre"},"mark":{"type":"bar","orient":"vertical","width":10,"stroke":"#6aa6b8","strokeWidth":0.5,"fill":{"gradient":"linear","x1":0,"y1":0,"x2":1,"y2":0,"stops":[{"offset":0,"color":"#a9d7e4"},{"offset":0.3,"color":"#f7fcfd"},{"offset":0.6,"color":"#cfe9f1"},{"offset":1,"color":"#72b5c9"}]}},"encoding":{"x":{"field":"day","type":"quantitative","scale":{"domain":[-2.91,31.89],"nice":false,"zero":false,"padding":0},"axis":{"zindex":1,"tickCount":100,"labelOverlap":false,"labelFlush":false,"values":[1,2,3,4,5,6,7,8,9,10,11,12,13,14,15,16,17,18,19,20,21,22,23,24,25,26,27,28,29,30,31,32],"format":"d","labelExpr":"datum.value > 31 ? '' : datum.label","offset":-24.5,"tickOffset":-8.65,"labelOffset":8.65,"tickSize":4,"labelPadding":7,"title":null}},"y":{"field":"value","type":"quantitative","scale":{"domain":[-4.9,25.1],"nice":false,"zero":false},"axis":{"zindex":1,"tickCount":100,"labelOverlap":false,"values":[0,5,10,15,20],"format":".1f","labelExpr":"datum.label + ' mm'","offset":-59,"tickSize":5,"labelPadding":3,"title":null}}}},
{"data":{"name":"Octobre"},"transform":[{"filter":"isValid(datum.label)"}],"mark":{"type":"text","baseline":"middle","dy":-14},"encoding":{"x":{"field":"day","type":"quantitative"},"y":{"field":"value","type":"quantitative"},"text":{"field":"label","type":"nominal"}}},
{"data":{"values":[{}]},"mark":{"type":"rect","fill":"#ffffff"},"encoding":{"x":{"datum":1.48,"type":"quantitative"},"x2":{"datum":5.53},"y":{"datum":19.7,"type":"quantitative"},"y2":{"datum":23.7}}},
{"data":{"values":[{}]},"mark":{"type":"text","text":"Octobre","fontSize":13,"baseline":"middle"},"encoding":{"x":{"datum":3.505,"type":"quantitative"},"y":{"datum":21.7,"type":"quantitative"}}},
{"data":{"values":[{}]},"mark":{"type":"rect","fill":"#ffffff"},"encoding":{"x":{"datum":24.49,"type":"quantitative"},"x2":{"datum":29.46},"y":{"datum":20.5,"type":"quantitative"},"y2":{"datum":23.7}}},
{"data":{"values":[{}]},"mark":{"type":"text","text":"110.20","fontSize":13,"baseline":"middle"},"encoding":{"x":{"datum":26.975,"type":"quantitative"},"y":{"datum":22.1,"type":"quantitative"}}}
]},
{"width":602,"height":150,"layer":[
{"data":{"values":[{}]},"mark":{"type":"rect","cornerRadius":14,"fill":{"gradient":"linear","x1":0,"y1":0,"x2":0,"y2":1,"stops":[{"offset":0,"color":"#9bbb59"},{"offset":0.42,"color":"#9fbe5f"},{"offset":0.72,"color":"#c3d8a6"},{"offset":1,"color":"#e4ece6"}]}},"encoding":{"x":{"datum":-2.91,"type":"quantitative"},"x2":{"datum":31.89},"y":{"datum":-6.125,"type":"quantitative"},"y2":{"datum":31.375}}},
{"data":{"values":[{}]},"mark":{"type":"rule","color":"#3a3a3a"},"encoding":{"x":{"datum":0.5,"type":"quantitative"},"y":{"datum":0,"type":"quantitative"},"y2":{"datum":25}}},
{"data":{"values":[{}]},"mark":{"type":"rule","color":"#3a3a3a"},"encoding":{"x":{"datum":0.5,"type":"quantitative"},"x2":{"datum":31.5},"y":{"datum":0,"type":"quantitative"}}},
{"data":{"name":"Novembre"},"mark":{"type":"bar","orient":"vertical","width":10,"stroke":"#6aa6b8","strokeWidth":0.5,"fill":{"gradient":"linear","x1":0,"y1":0,"x2":1,"y2":0,"stops":[{"offset":0,"color":"#a9d7e4"},{"offset":0.3,"color":"#f7fcfd"},{"offset":0.6,"color":"#cfe9f1"},{"offset":1,"color":"#72b5c9"}]}},"encoding":{"x":{"field":"day","type":"quantitative","scale":{"domain":[-2.91,31.89],"nice":false,"zero":false,"padding":0},"axis":{"zindex":1,"tickCount":100,"labelOverlap":false,"labelFlush":false,"values":[1,2,3,4,5,6,7,8,9,10,11,12,13,14,15,16,17,18,19,20,21,22,23,24,25,26,27,28,29,30,31,32],"format":"d","labelExpr":"datum.value > 31 ? '' : datum.label","offset":-24.5,"tickOffset":-8.65,"labelOffset":8.65,"tickSize":4,"labelPadding":7,"title":null}},"y":{"field":"value","type":"quantitative","scale":{"domain":[-6.125,31.375],"nice":false,"zero":false},"axis":{"zindex":1,"tickCount":100,"labelOverlap":false,"values":[0,5,10,15,20,25],"format":".1f","labelExpr":"datum.label + ' mm'","offset":-59,"tickSize":5,"labelPadding":3,"title":null}}}},
{"data":{"name":"Novembre"},"transform":[{"filter":"isValid(datum.label)"}],"mark":{"type":"text","baseline":"middle","dy":-14},"encoding":{"x":{"field":"day","type":"quantitative"},"y":{"field":"value","type":"quantitative"},"text":{"field":"label","type":"nominal"}}},
{"data":{"values":[{}]},"mark":{"type":"rect","fill":"#ffffff"},"encoding":{"x":{"datum":1.48,"type":"quantitative"},"x2":{"datum":6.34},"y":{"datum":24.625,"type":"quantitative"},"y2":{"datum":29.625}}},
{"data":{"values":[{}]},"mark":{"type":"text","text":"Novembre","fontSize":13,"baseline":"middle"},"encoding":{"x":{"datum":3.91,"type":"quantitative"},"y":{"datum":27.125,"type":"quantitative"}}},
{"data":{"values":[{}]},"mark":{"type":"rect","fill":"#ffffff"},"encoding":{"x":{"datum":24.49,"type":"quantitative"},"x2":{"datum":29.46},"y":{"datum":25.625,"type":"quantitative"},"y2":{"datum":29.625}}},
{"data":{"values":[{}]},"mark":{"type":"text","text":"173.20","fontSize":13,"baseline":"middle"},"encoding":{"x":{"datum":26.975,"type":"quantitative"},"y":{"datum":27.625,"type":"quantitative"}}}
]},
{"width":602,"height":150,"layer":[
{"data":{"values":[{}]},"mark":{"type":"rect","cornerRadius":14,"fill":{"gradient":"linear","x1":0,"y1":0,"x2":0,"y2":1,"stops":[{"offset":0,"color":"#9bbb59"},{"offset":0.42,"color":"#9fbe5f"},{"offset":0.72,"color":"#c3d8a6"},{"offset":1,"color":"#e4ece6"}]}},"encoding":{"x":{"datum":-2.91,"type":"quantitative"},"x2":{"datum":31.89},"y":{"datum":-6.125,"type":"quantitative"},"y2":{"datum":31.375}}},
{"data":{"values":[{}]},"mark":{"type":"rule","color":"#3a3a3a"},"encoding":{"x":{"datum":0.5,"type":"quantitative"},"y":{"datum":0,"type":"quantitative"},"y2":{"datum":25}}},
{"data":{"values":[{}]},"mark":{"type":"rule","color":"#3a3a3a"},"encoding":{"x":{"datum":0.5,"type":"quantitative"},"x2":{"datum":31.5},"y":{"datum":0,"type":"quantitative"}}},
{"data":{"name":"Décembre"},"mark":{"type":"bar","orient":"vertical","width":10,"stroke":"#6aa6b8","strokeWidth":0.5,"fill":{"gradient":"linear","x1":0,"y1":0,"x2":1,"y2":0,"stops":[{"offset":0,"color":"#a9d7e4"},{"offset":0.3,"color":"#f7fcfd"},{"offset":0.6,"color":"#cfe9f1"},{"offset":1,"color":"#72b5c9"}]}},"encoding":{"x":{"field":"day","type":"quantitative","scale":{"domain":[-2.91,31.89],"nice":false,"zero":false,"padding":0},"axis":{"zindex":1,"tickCount":100,"labelOverlap":false,"labelFlush":false,"values":[1,2,3,4,5,6,7,8,9,10,11,12,13,14,15,16,17,18,19,20,21,22,23,24,25,26,27,28,29,30,31,32],"format":"d","labelExpr":"datum.value > 31 ? '' : datum.label","offset":-24.5,"tickOffset":-8.65,"labelOffset":8.65,"tickSize":4,"labelPadding":7,"title":null}},"y":{"field":"value","type":"quantitative","scale":{"domain":[-6.125,31.375],"nice":false,"zero":false},"axis":{"zindex":1,"tickCount":100,"labelOverlap":false,"values":[0,5,10,15,20,25],"format":".1f","labelExpr":"datum.label + ' mm'","offset":-59,"tickSize":5,"labelPadding":3,"title":null}}}},
{"data":{"name":"Décembre"},"transform":[{"filter":"isValid(datum.label)"}],"mark":{"type":"text","baseline":"middle","dy":-14},"encoding":{"x":{"field":"day","type":"quantitative"},"y":{"field":"value","type":"quantitative"},"text":{"field":"label","type":"nominal"}}},
{"data":{"values":[{}]},"mark":{"type":"rect","fill":"#ffffff"},"encoding":{"x":{"datum":1.48,"type":"quantitative"},"x2":{"datum":6.22},"y":{"datum":24.625,"type":"quantitative"},"y2":{"datum":29.625}}},
{"data":{"values":[{}]},"mark":{"type":"text","text":"Décembre","fontSize":13,"baseline":"middle"},"encoding":{"x":{"datum":3.85,"type":"quantitative"},"y":{"datum":27.125,"type":"quantitative"}}},
{"data":{"values":[{}]},"mark":{"type":"rect","fill":"#ffffff"},"encoding":{"x":{"datum":13.04,"type":"quantitative"},"x2":{"datum":17.78},"y":{"datum":24.375,"type":"quantitative"},"y2":{"datum":29.375}}},
{"data":{"values":[{}]},"mark":{"type":"text","text":"807.0 mm","fontSize":13,"baseline":"middle"},"encoding":{"x":{"datum":15.41,"type":"quantitative"},"y":{"datum":26.875,"type":"quantitative"}}},
{"data":{"values":[{}]},"mark":{"type":"rect","fill":"#ffffff"},"encoding":{"x":{"datum":24.49,"type":"quantitative"},"x2":{"datum":29.46},"y":{"datum":25.625,"type":"quantitative"},"y2":{"datum":29.625}}},
{"data":{"values":[{}]},"mark":{"type":"text","text":"154.24","fontSize":13,"baseline":"middle"},"encoding":{"x":{"datum":26.975,"type":"quantitative"},"y":{"datum":27.625,"type":"quantitative"}}}
]}
]}
]
}
